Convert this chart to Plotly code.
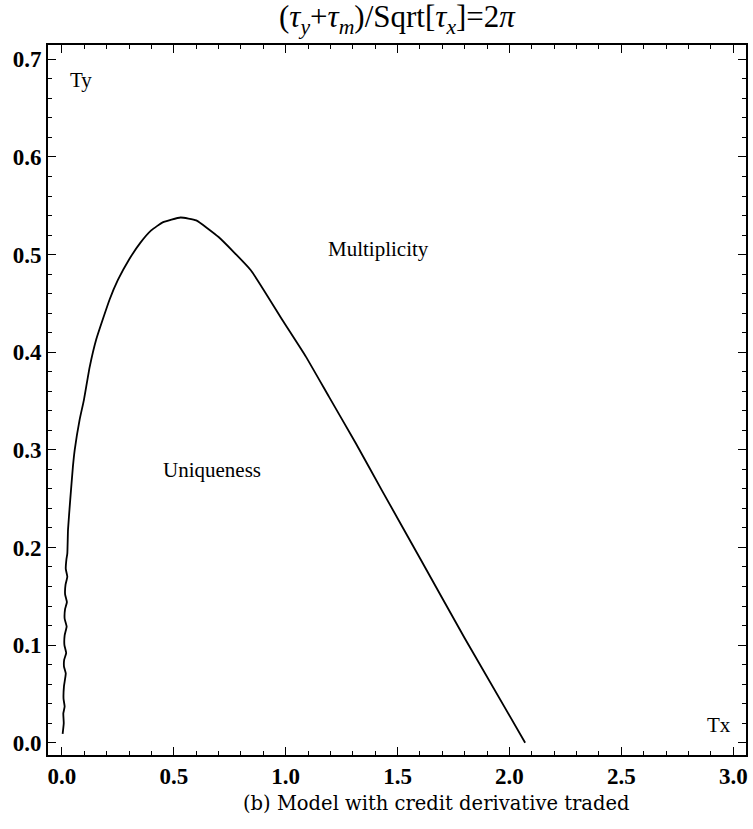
import plotly.graph_objects as go

# Boundary curve (Tx, Ty)
tx = [0.003, 0.008, 0.006, 0.012, 0.007, 0.009, 0.017, 0.009, 0.010, 0.019, 0.011, 0.012,
      0.021, 0.012, 0.014, 0.022, 0.014, 0.016, 0.024, 0.017, 0.020, 0.024, 0.027, 0.037,
      0.049, 0.057, 0.079, 0.098, 0.124, 0.153, 0.213, 0.25, 0.30, 0.35, 0.40, 0.45, 0.53,
      0.60, 0.70, 0.844, 0.985, 1.09, 1.193, 1.3125, 1.431, 1.6, 1.8, 2.07]
ty = [0.009, 0.020, 0.030, 0.037, 0.045, 0.058, 0.071, 0.078, 0.085, 0.092, 0.100, 0.110,
      0.119, 0.127, 0.137, 0.144, 0.152, 0.162, 0.170, 0.178, 0.188, 0.194, 0.218, 0.249,
      0.283, 0.300, 0.331, 0.351, 0.385, 0.413, 0.454, 0.474, 0.495, 0.512, 0.525, 0.533, 0.538,
      0.535, 0.518, 0.484, 0.433, 0.3955, 0.3545, 0.307, 0.258, 0.189, 0.107, 0.0]

x_range = [-0.0624, 3.057]
y_range = [-0.0126, 0.7147]
x_ticks = [0.0, 0.5, 1.0, 1.5, 2.0, 2.5, 3.0]
y_ticks = [0.0, 0.1, 0.2, 0.3, 0.4, 0.5, 0.6, 0.7]

region_labels = ["Ty", "Tx", "Multiplicity", "Uniqueness"]
label_x = [0.0856, 2.937, 1.416, 0.672]
label_y = [0.679, 0.0186, 0.506, 0.279]

title_text = "(<i>τ</i><sub><i>y</i></sub>+<i>τ</i><sub><i>m</i></sub>)/Sqrt[<i>τ</i><sub><i>x</i></sub>]=2<i>π</i>"
caption_text = "(b) Model with credit derivative traded"

SERIF = "Liberation Serif, Times New Roman, serif"

fig = go.Figure()
fig.add_trace(go.Scatter(x=tx, y=ty, mode="lines",
                         line=dict(color="black", width=1.8, shape="spline", smoothing=0.4),
                         showlegend=False, hoverinfo="skip"))

for t, x, y in zip(region_labels, label_x, label_y):
    fig.add_annotation(x=x, y=y, text=t, showarrow=False, xref="x", yref="y",
                       font=dict(family=SERIF, size=21, color="black"))

fig.add_annotation(x=0.5, y=1, xref="paper", yref="paper", yshift=26, yanchor="middle",
                   text=title_text, showarrow=False,
                   font=dict(family=SERIF, size=31, color="black"))
fig.add_annotation(x=0.556, y=0, xref="paper", yref="paper", yshift=-48, yanchor="middle",
                   text=caption_text, showarrow=False,
                   font=dict(family="DejaVu Serif, serif", size=19.5, color="black"))

axis_common = dict(showgrid=False, zeroline=False, showline=True, linecolor="black",
                   linewidth=1.6, mirror="ticks", ticks="inside", ticklen=8, tickwidth=1.3,
                   tickcolor="black", tickformat=".1f",
                   tickfont=dict(family=SERIF, size=23, color="black", weight="bold"))

fig.update_xaxes(range=x_range, tickvals=x_ticks, **axis_common,
                 minor=dict(dtick=0.1, tick0=0, ticks="inside", ticklen=4, tickwidth=1, tickcolor="black"))
fig.update_yaxes(range=y_range, tickvals=y_ticks, **axis_common,
                 minor=dict(dtick=0.02, tick0=0, ticks="inside", ticklen=4, tickwidth=1, tickcolor="black"))

fig.update_layout(width=753, height=829, margin=dict(l=48, r=5, t=45, b=74),
                  plot_bgcolor="white", paper_bgcolor="white")

fig.write_html("out.html")
